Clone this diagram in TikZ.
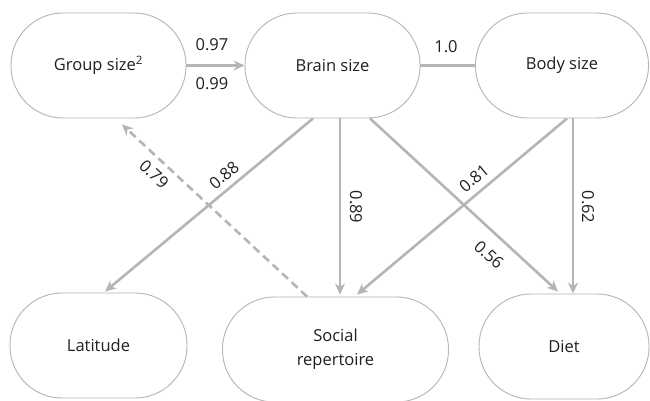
\documentclass[tikz,border=0pt]{standalone}
\usepackage{fontspec}
\setmainfont{Open Sans}
\usetikzlibrary{arrows.meta}
\definecolor{edgegray}{HTML}{B3B5B8}
\definecolor{boxgray}{HTML}{B5B5B5}
\definecolor{inkblack}{HTML}{231F20}
\begin{document}
\begin{tikzpicture}[x=1pt,y=-1pt,
  var/.style={draw=boxgray, line width=0.9pt, rounded corners=52pt,
    minimum width=#1, minimum height=105pt, inner sep=0pt, align=center,
    text=inkblack, font=\fontsize{16.5}{24}\selectfont},
  var/.default=175pt,
  lab/.style={inner sep=0pt, text=inkblack, font=\fontsize{16.5}{19}\selectfont},
  plain/.style={draw=edgegray, line width=2.6pt},
  link/.style={plain, -{Stealth[length=11pt,width=10pt,inset=3.5pt]}},
  dashlink/.style={link, dash pattern=on 8pt off 5pt}]
  % canvas
  \path[fill=white, use as bounding box] (0,0) rectangle (650,400);

  % variables
  \node[var] (grp)   at (98.5,65.5)  {Group size\textsuperscript{2}};
  \node[var] (brain) at (332.5,65.5) {Brain size};
  \node[var=173pt] (body) at (562,65.5) {Body size};
  \node[var=177pt] (lat)  at (98.5,345.5) {Latitude};
  \node[var=226pt] (soc)  at (335.5,349.5) {Social\\repertoire};
  \node[var=170pt] (diet) at (564,346.5) {Diet};

  % paths
  \draw[link] (grp.east) -- (brain.west);
  \draw[plain] (brain.east) -- (body.west);
  \draw[link] ([xshift=-19.5pt]brain.south) -- ([xshift=6.5pt,yshift=1pt]lat.north);
  \draw[dashlink] ([xshift=-28.5pt]soc.north) -- ([xshift=23.5pt,yshift=-6pt]grp.south);
  \draw[link] ([xshift=7.5pt]brain.south) -- ([xshift=7.5pt,yshift=2pt]brain.south |- soc.north);
  \draw[link] ([xshift=37.5pt]brain.south) -- ([xshift=-6pt,yshift=2pt]diet.north);
  \draw[link] ([xshift=5pt]body.south) -- ([xshift=21.5pt,yshift=2pt]soc.north);
  \draw[link] ([xshift=11pt]body.south) -- ([xshift=11pt,yshift=0pt]body.south |- diet.north);

  % coefficients
  \node[lab] (c1) at (212,45) {0.97};
  \node[lab] (c2) at (212,84) {0.99};
  \node[lab] (c3) at (446,47) {1.0};
  \node[lab, rotate=40]  (c4) at (224,175) {0.88};
  \node[lab, rotate=-43] (c5) at (154,174) {0.79};
  \node[lab, rotate=-90] (c6) at (356,207) {0.89};
  \node[lab, rotate=40]  (c7) at (474,178) {0.81};
  \node[lab, rotate=-42] (c8) at (489,255) {0.56};
  \node[lab, rotate=-90] (c9) at (588,207) {0.62};
\end{tikzpicture}
\end{document}
